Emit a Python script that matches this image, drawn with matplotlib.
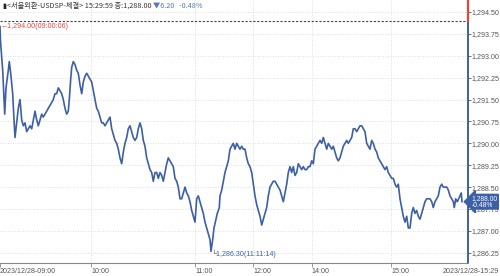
import matplotlib
matplotlib.use("Agg")
import matplotlib.pyplot as plt

# trade sequence position (chart is tick based, not time based) and price
TICK_POS = [
    0, 0.5, 2.7, 4, 4.7, 6, 8.3, 9.3, 10.7, 12.7, 14, 15, 16.7, 18.3, 20, 21.7, 23.3, 25,
    26.7, 28.3, 30, 31.7, 33.3, 35, 36.7, 38.3, 40, 41.7, 43.3, 45, 48.3, 51.7, 53.3, 55,
    56.7, 58.3, 60, 61.7, 63.3, 65, 66.7, 68.3, 69.3, 70.7, 71.7, 73.3, 75, 76.7, 78.3, 80,
    81.7, 83.3, 85, 86.7, 88.3, 90, 91.7, 93.3, 95, 96.7, 98.3, 100, 101.7, 103.3, 105,
    106.7, 108.3, 110, 111.7, 113.3, 115, 116.7, 118.3, 120, 121.7, 123.3, 125, 126.7,
    128.3, 130, 131.7, 133.3, 135, 136.7, 138.3, 140, 141.7, 143.3, 145, 146.7, 148.3, 150,
    151.7, 153.3, 155, 156.7, 158.3, 160, 161.7, 163.3, 165, 166.7, 168.3, 170, 171.7,
    173.3, 175, 176.7, 178.3, 180, 181.7, 183.3, 185, 186.7, 188.3, 190, 191.7, 193.3, 195,
    196.7, 198.3, 200, 201.7, 203.3, 205, 206.7, 208.3, 210, 211, 212.7, 214, 216, 217.3,
    219.3, 220, 221.7, 223.3, 225, 226.7, 228.3, 230, 231.7, 233.3, 235, 236.7, 238.3, 240,
    241.7, 243.3, 245, 246.7, 248.3, 250, 251.7, 253.3, 255, 256.7, 258.3, 260, 261.7,
    263.3, 265, 266.7, 268.3, 270, 271.7, 273.3, 275, 276.7, 280, 281.7, 283.3, 285, 286.7,
    288.3, 290, 291.7, 293.3, 295, 296.7, 298.3, 300, 301.7, 303.3, 305, 306.7, 308.3, 310,
    311.7, 313.3, 315, 316.7, 318.3, 320, 321.7, 323.3, 325, 326.7, 328.3, 330, 331.7,
    333.3, 335, 336.7, 338.3, 340, 341.7, 343.3, 345, 346.7, 348.3, 350, 351.7, 353.3, 355,
    356.7, 358.3, 360, 361.7, 363.3, 365, 366.7, 368.3, 370, 371.7, 373.3, 375, 376.7,
    378.3, 380, 381.7, 383.3, 385, 386.7, 388.3, 390, 391.7, 393.3, 395, 396.7, 398.3, 400,
    401.7, 403.3, 405, 406.7, 408.3, 410, 411.7, 413.3, 415, 416.7, 418.3, 420, 421.7,
    423.3, 425, 426.7, 428.3, 430, 431.7, 433.3, 435, 436.7, 438.3, 440, 441.7, 443.3, 445,
    446.7, 448.3, 450, 451.7, 453.3, 454.3, 455.7, 457.3, 458.7, 460, 461.3, 462,
]
PRICE = [
    1294.0, 1293.5, 1292.5, 1291.5, 1291.0, 1291.9, 1292.5, 1292.8, 1292.4, 1291.7, 1290.8,
    1290.2, 1290.7, 1291.2, 1291.5, 1290.8, 1290.6, 1290.7, 1290.4, 1290.5, 1290.6, 1290.5,
    1290.8, 1291.1, 1290.8, 1290.6, 1290.8, 1291.0, 1290.9, 1291.0, 1291.2, 1291.4, 1291.5,
    1291.7, 1291.7, 1291.9, 1291.8, 1291.7, 1291.5, 1291.2, 1291.0, 1291.1, 1291.5, 1292.2,
    1292.6, 1292.8, 1292.7, 1292.5, 1292.4, 1292.0, 1291.7, 1292.1, 1292.3, 1292.4, 1292.3,
    1292.2, 1292.1, 1291.8, 1291.5, 1291.2, 1291.1, 1290.9, 1290.7, 1290.7, 1290.6, 1290.7,
    1290.8, 1290.9, 1290.5, 1290.3, 1290.1, 1290.0, 1289.8, 1289.5, 1289.3, 1289.7, 1290.0,
    1290.2, 1290.5, 1290.6, 1290.4, 1290.2, 1290.1, 1290.2, 1290.5, 1290.7, 1290.5, 1290.1,
    1289.9, 1289.5, 1289.3, 1289.1, 1289.0, 1288.7, 1289.0, 1289.0, 1288.8, 1289.0, 1288.9,
    1288.7, 1289.0, 1289.3, 1289.5, 1289.4, 1289.3, 1289.2, 1288.8, 1288.7, 1288.5, 1288.1,
    1288.1, 1288.3, 1288.5, 1288.3, 1288.2, 1288.0, 1287.7, 1287.5, 1287.3, 1288.1, 1288.2,
    1288.0, 1287.8, 1287.6, 1287.3, 1287.1, 1286.9, 1286.7, 1286.3, 1286.7, 1287.1, 1287.4,
    1287.6, 1287.8, 1288.2, 1288.4, 1288.7, 1289.0, 1289.2, 1289.4, 1289.8, 1289.9, 1290.0,
    1289.8, 1290.0, 1289.9, 1289.8, 1289.9, 1289.8, 1289.8, 1289.5, 1289.3, 1289.2, 1289.0,
    1288.6, 1288.2, 1287.9, 1287.7, 1287.5, 1287.2, 1287.4, 1287.6, 1287.8, 1288.2, 1288.5,
    1288.6, 1288.7, 1288.7, 1288.6, 1288.4, 1288.2, 1288.0, 1288.3, 1288.6, 1289.0, 1289.2,
    1289.0, 1289.2, 1288.9, 1289.0, 1289.3, 1289.2, 1289.1, 1289.2, 1289.1, 1289.1, 1289.2,
    1289.2, 1289.4, 1289.3, 1289.8, 1289.9, 1290.0, 1290.1, 1290.0, 1290.2, 1290.0, 1289.8,
    1290.0, 1289.9, 1289.8, 1289.9, 1289.7, 1289.5, 1289.4, 1289.5, 1289.7, 1289.9, 1290.0,
    1290.1, 1290.0, 1290.1, 1290.2, 1290.5, 1290.5, 1290.4, 1290.5, 1290.6, 1290.6, 1290.5,
    1290.4, 1290.0, 1289.9, 1289.8, 1290.1, 1290.0, 1289.8, 1289.7, 1289.5, 1289.4, 1289.3,
    1289.2, 1289.1, 1289.2, 1289.0, 1288.9, 1288.8, 1288.8, 1288.6, 1288.5, 1288.6, 1288.1,
    1287.8, 1287.5, 1287.3, 1287.5, 1287.1, 1287.1, 1287.6, 1287.8, 1287.6, 1287.7, 1287.5,
    1287.4, 1287.6, 1287.8, 1288.0, 1288.1, 1288.1, 1288.1, 1288.0, 1287.8, 1288.0, 1288.1,
    1288.2, 1288.5, 1288.6, 1288.5, 1288.5, 1288.5, 1288.4, 1288.2, 1288.1, 1288.0, 1287.8,
    1288.1, 1288.0, 1288.1, 1288.2, 1288.3, 1288.0,
]

PREV_CLOSE = 1294.20
LAST_PRICE = 1288.00
CHANGE = -6.20
CHANGE_PCT = -0.48
HIGH_PRICE, HIGH_TIME = 1294.00, "09:00:06"
LOW_PRICE, LOW_TIME = 1286.30, "11:11:14"

Y_TICKS = [1286.25, 1287.00, 1287.75, 1288.50, 1289.25, 1290.00, 1290.75, 1291.50,
           1292.25, 1293.00, 1293.75, 1294.50]
TIME_POS = [0, 91, 195, 253, 312, 391]
TIME_LABELS = ["2023/12/28-09:00", "10:00", "11:00", "12:00", "14:00", "15:00"]
END_LABEL = "2023/12/28-15:29"
TITLE = "<서울외환-USDSP-체결> 15:29:59 종:1,288.00 "

BLUE = "#3c5fa5"
RED = "#e0473f"
GREY = "#555555"
SMALL = ["Liberation Sans", "DejaVu Sans"]
KR = ["Noto Sans CJK KR", "DejaVu Sans"]
FS = 5.1

fig = plt.figure(figsize=(5.0, 2.76), dpi=100)
ax = fig.add_axes([0.0, 13 / 276, 468 / 500, 263 / 276])
ax.set_xlim(0, 468)
ax.set_ylim(1285.90, 1294.91)

ax.plot(TICK_POS, PRICE, color=BLUE, lw=1.2, zorder=3)
ax.axhline(PREV_CLOSE, color="#444444", lw=0.8, ls=(0, (2, 1.5)), zorder=2)

# grid
for v in Y_TICKS:
    ax.axhline(v, color="#d4d4d4", lw=0.6, ls=(0, (1, 2)), zorder=1)
for p in TIME_POS[1:]:
    ax.axvline(p, color="#d4d4d4", lw=0.6, ls=(0, (1, 2)), zorder=1)

# spines
for side in ["left", "top"]:
    ax.spines[side].set_visible(False)
ax.spines["bottom"].set_color("#888888")
ax.spines["right"].set_color(BLUE)
ax.spines["right"].set_linewidth(1.4)
ax.plot([1, 1], [PREV_CLOSE, 1294.91], color=RED, lw=1.6,
        transform=ax.get_yaxis_transform(), clip_on=False, zorder=5)

# y axis on the right
ax.yaxis.tick_right()
ax.set_yticks(Y_TICKS, [f"{v:,.2f}" for v in Y_TICKS])
ax.tick_params(axis="y", length=2, width=0.6, color=GREY, pad=0.8,
               labelsize=FS, labelcolor=GREY)
for lbl in ax.get_yticklabels():
    lbl.set_family(SMALL)

# x axis
ax.set_xticks(TIME_POS, TIME_LABELS)
ax.tick_params(axis="x", length=3, width=0.6, color="#888888", pad=0.5,
               labelsize=FS, labelcolor=GREY)
for lbl in ax.get_xticklabels():
    lbl.set_ha("left")
    lbl.set_family(SMALL)
fig.text(0.998, 0.002, END_LABEL, ha="right", va="bottom", fontsize=FS,
         color=GREY, family=SMALL)

# high / low markers
ax.text(0.3, HIGH_PRICE, f"←{HIGH_PRICE:,.2f}({HIGH_TIME})", color=RED,
        fontsize=FS, va="center", ha="left", family=SMALL, zorder=4)
low_pos = TICK_POS[PRICE.index(min(PRICE))]
ax.text(low_pos + 0.5, LOW_PRICE - 0.08, f"└{LOW_PRICE:,.2f}({LOW_TIME})", color=BLUE,
        fontsize=FS, va="center", ha="left", family=SMALL, zorder=4)

# current price box
ax.text(1.008, LAST_PRICE, f"{LAST_PRICE:,.2f}\n{CHANGE_PCT:.2f}%",
        transform=ax.get_yaxis_transform(), color="white", fontsize=4.9,
        va="center", ha="left", family=SMALL, linespacing=0.95, zorder=6, clip_on=False,
        bbox=dict(boxstyle="larrow,pad=0.07", fc=BLUE, ec=BLUE))

# header
renderer = fig.canvas.get_renderer()
fig.text(0.004, 0.993, "▮", fontsize=5.2, color="#222222", va="top", family=KR)
t1 = fig.text(0.014, 0.993, TITLE, fontsize=5.2, color="#333333", va="top", family=KR)
ext = t1.get_window_extent(renderer)
fig.text(ext.x1 / fig.bbox.width, 0.993, f"▼{abs(CHANGE):.2f}   {CHANGE_PCT:.2f}%",
         fontsize=5.2, color="#5575b8", va="top", family=KR)

fig.savefig("out.png", dpi=100)
